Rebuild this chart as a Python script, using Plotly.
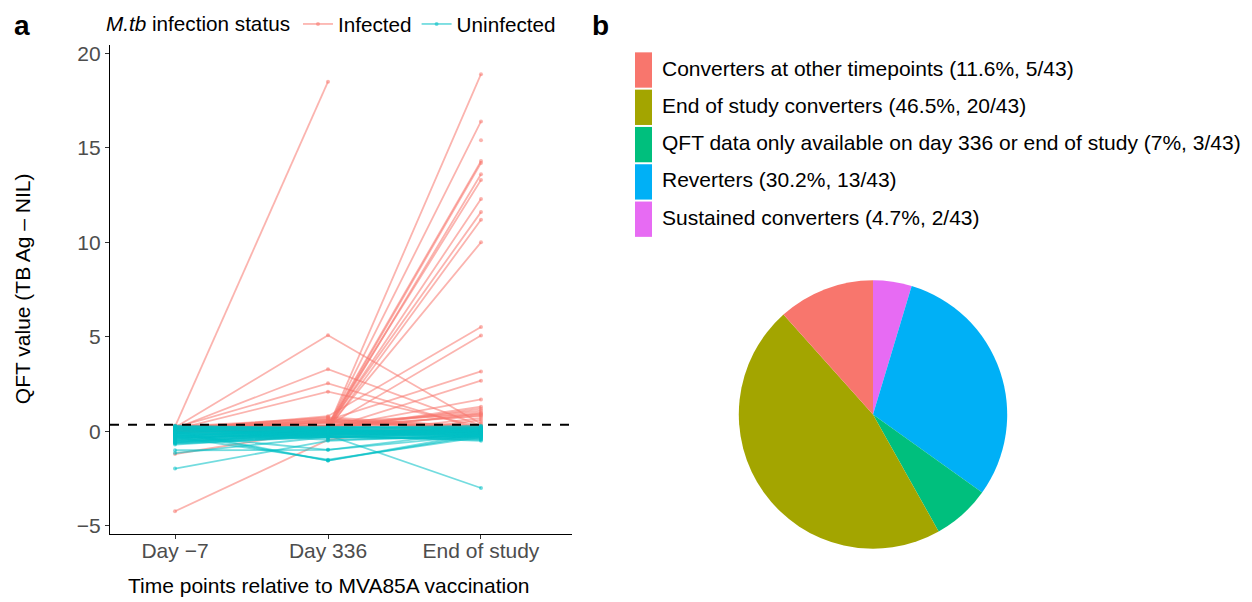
import plotly.graph_objects as go

W, H = 1252, 602

timepoints = ["Day \u22127", "Day 336", "End of study"]

# Infected participants: QFT value at Day -7, Day 336, End of study (None = missing)
infected = [
    [0.25, 18.5, None],
    [0.20, 5.08, 0.40],
    [0.15, 3.29, 0.30],
    [0.20, 2.54, 0.10],
    [0.10, 2.10, 0.25],
    [0.10, 0.75, 0.20],
    [0.20, 0.65, 0.10],
    [0.05, 0.60, 0.30],
    [0.15, 0.55, 0.15],
    [0.00, 0.50, 0.05],
    [0.10, 0.45, 0.20],
    [0.25, 0.70, 0.00],
    [0.30, 0.40, -0.10],
    [-0.10, 0.50, 0.25],
    [0.10, 0.80, 5.52],
    [0.20, 0.60, 3.17],
    [0.10, 0.20, 18.9],
    [0.20, 0.25, 16.4],
    [0.15, 0.30, 14.3],
    [0.00, 0.20, 14.2],
    [0.10, 0.15, 13.6],
    [0.20, 0.30, 13.3],
    [0.05, 0.20, 12.3],
    [0.10, 0.25, 11.6],
    [0.20, 0.10, 11.2],
    [0.15, 0.20, 10.0],
    [0.10, 0.30, 5.07],
    [0.00, 0.15, 2.68],
    [0.20, 0.20, 1.69],
    [0.10, 0.10, 1.30],
    [0.25, 0.30, 1.10],
    [0.10, 0.00, 0.95],
    [-0.10, 0.20, 0.85],
    [0.05, 0.25, 0.80],
    [0.15, -0.20, 0.70],
    [-4.23, -0.45, 0.60],
    [-1.20, 0.10, 1.20],
    [0.30, 0.20, 0.00],
    [0.10, -0.10, 0.20],
    [0.20, 0.50, 0.90],
    [None, None, 15.4],
    [None, 0.30, 1.00],
    [None, None, 0.50],
]

# Uninfected participants
uninfected = [
    [0.30, 0.10, 0.05], [0.25, 0.05, 0.00], [0.20, 0.00, -0.05], [0.15, -0.05, 0.10],
    [0.10, 0.10, -0.10], [0.05, -0.10, 0.05], [0.00, 0.00, 0.00], [-0.05, 0.05, -0.15],
    [-0.10, -0.05, 0.20], [-0.15, 0.00, -0.20], [-0.20, -0.10, 0.00], [-0.25, 0.05, -0.05],
    [-0.30, -0.15, -0.25], [-0.35, -0.05, 0.10], [-0.40, 0.00, -0.30], [-0.45, -0.20, -0.10],
    [-0.50, -0.10, -0.35], [-0.55, -0.25, -0.40], [-0.60, -0.15, -0.20], [-0.65, -0.30, -0.45],
    [-0.70, -0.20, -0.50], [0.28, 0.20, 0.25], [0.22, 0.15, 0.18], [0.18, 0.25, 0.12],
    [0.12, 0.18, 0.30], [0.08, 0.22, 0.15], [0.02, 0.12, 0.22], [-0.02, -0.02, 0.08],
    [-0.08, 0.08, -0.08], [-0.12, -0.12, 0.02], [-0.18, 0.02, -0.12], [-0.22, -0.08, 0.12],
    [-0.28, 0.12, -0.02], [-0.32, -0.18, 0.06], [-0.38, -0.02, -0.22], [-0.42, -0.12, -0.16],
    [-0.48, 0.04, -0.06], [-0.52, -0.22, -0.28], [-0.58, -0.06, -0.12], [-0.62, -0.28, -0.32],
    [0.00, -1.55, -0.20], [-0.10, -1.55, -0.10], [-0.30, -1.50, -0.30], [-0.20, -0.98, 0.00],
    [-1.00, -0.98, -0.20], [-1.15, -0.30, -0.10], [-1.97, -0.50, -0.20], [0.10, -0.20, -3.00],
    [-0.05, -0.45, -0.25], [0.15, -0.35, 0.05], [-0.25, -0.30, -0.40],
]

cutoff = 0.35

pie_labels = [
    "Converters at other timepoints",
    "End of study converters",
    "QFT data only available on day 336 or end of study",
    "Reverters",
    "Sustained converters",
]
pie_counts = [5, 20, 3, 13, 2]
pie_colors = ["#F8766D", "#A3A500", "#00BF7D", "#00B0F6", "#E76BF3"]

group_style = {
    "Infected": "rgba(248,118,109,0.55)",
    "Uninfected": "rgba(0,191,196,0.55)",
}

FONT = "Liberation Sans, Arial, sans-serif"
TXT = 21

fig = go.Figure()

for name, rows in [("Infected", infected), ("Uninfected", uninfected)]:
    for i, vals in enumerate(rows):
        fig.add_trace(go.Scatter(
            x=[0, 1, 2], y=vals, mode="lines+markers",
            line=dict(color=group_style[name], width=1.8),
            marker=dict(color=group_style[name], size=4),
            name=name, legendgroup=name, showlegend=(i == 0),
            connectgaps=False, hoverinfo="skip",
        ))

total = sum(pie_counts)
# pie drawn clockwise from 12 o'clock in reverse order == ggplot's layout
fig.add_trace(go.Pie(
    labels=pie_labels[::-1], values=pie_counts[::-1], sort=False, direction="clockwise",
    marker=dict(colors=pie_colors[::-1], line=dict(width=0)),
    textinfo="none", showlegend=False, hoverinfo="label+value",
    domain=dict(x=[(873 - 136) / W, (873 + 136) / W], y=[1 - (416 + 136) / H, 1 - (416 - 136) / H]),
))

# pie legend (manual keys)
row_y0 = 48
row_h = 37.8
for k, (lab, cnt, col) in enumerate(zip(pie_labels, pie_counts, pie_colors)):
    pct = round(100 * cnt / total, 1)
    pct_s = (f"{pct:.1f}").rstrip("0").rstrip(".")
    y0 = row_y0 + k * row_h
    fig.add_shape(type="rect", xref="paper", yref="paper",
                  x0=635 / W, x1=652 / W, y0=1 - (y0 + 1) / H, y1=1 - (y0 + row_h - 1) / H,
                  fillcolor=col, line=dict(width=0))
    fig.add_annotation(xref="paper", yref="paper", x=660 / W, y=1 - (y0 + row_h / 2 - 2) / H,
                       xanchor="left", yanchor="middle", showarrow=False,
                       text=f"{lab} ({pct_s}%, {cnt}/{total})",
                       font=dict(size=TXT, color="black", family=FONT))

fig.add_shape(type="line", xref="x domain", yref="y", x0=0, x1=1, y0=cutoff, y1=cutoff,
              line=dict(color="black", width=2, dash="dash"))

fig.add_annotation(xref="paper", yref="paper", x=12 / W, y=1 - 22 / H, text="<b>a</b>",
                   showarrow=False, xanchor="left", yanchor="middle",
                   font=dict(size=28, color="black", family=FONT))
fig.add_annotation(xref="paper", yref="paper", x=590 / W, y=1 - 22 / H, text="<b>b</b>",
                   showarrow=False, xanchor="left", yanchor="middle",
                   font=dict(size=28, color="black", family=FONT))

# axis titles
fig.add_annotation(xref="paper", yref="paper", x=329 / W, y=1 - 589 / H,
                   text="Time points relative to MVA85A vaccination", showarrow=False,
                   xanchor="center", yanchor="middle", font=dict(size=TXT, color="black"))
fig.add_annotation(xref="paper", yref="paper", x=22 / W, y=1 - 289 / H,
                   text="QFT value (TB Ag \u2013 NIL)", showarrow=False, textangle=-90,
                   xanchor="center", yanchor="middle", font=dict(size=TXT, color="black"))

fig.update_layout(
    width=W, height=H, margin=dict(l=0, r=0, t=0, b=0),
    paper_bgcolor="white", plot_bgcolor="white",
    font=dict(family=FONT, size=TXT, color="black"),
    xaxis=dict(domain=[110 / W, 572 / W], range=[-0.425, 2.595],
               tickvals=[0, 1, 2], ticktext=timepoints, showgrid=False, zeroline=False,
               showline=True, linecolor="black", linewidth=1.2, ticks="outside",
               ticklen=4, tickcolor="#333333", tickfont=dict(size=TXT, color="#4D4D4D"),
               ticklabelstandoff=-6),
    yaxis=dict(domain=[1 - 536.7 / H, 1 - 42 / H], range=[-5.41, 20.42],
               tickvals=[-5, 0, 5, 10, 15, 20], showgrid=False, zeroline=False,
               showline=True, linecolor="black", linewidth=1.2, ticks="outside",
               ticklen=4, tickcolor="#333333", tickfont=dict(size=TXT, color="#4D4D4D")),
    legend=dict(orientation="h", x=104 / W, y=1.0, xanchor="left", yanchor="top",
                itemwidth=30,
                title=dict(text="<i>M.tb</i> infection status", side="left",
                           font=dict(size=20.7, color="black")),
                font=dict(size=20.7, color="black"), bgcolor="rgba(0,0,0,0)"),
    showlegend=True,
)

fig.write_html("out.html", config={"displayModeBar": False},
               post_script="document.body.style.margin='0px';")
